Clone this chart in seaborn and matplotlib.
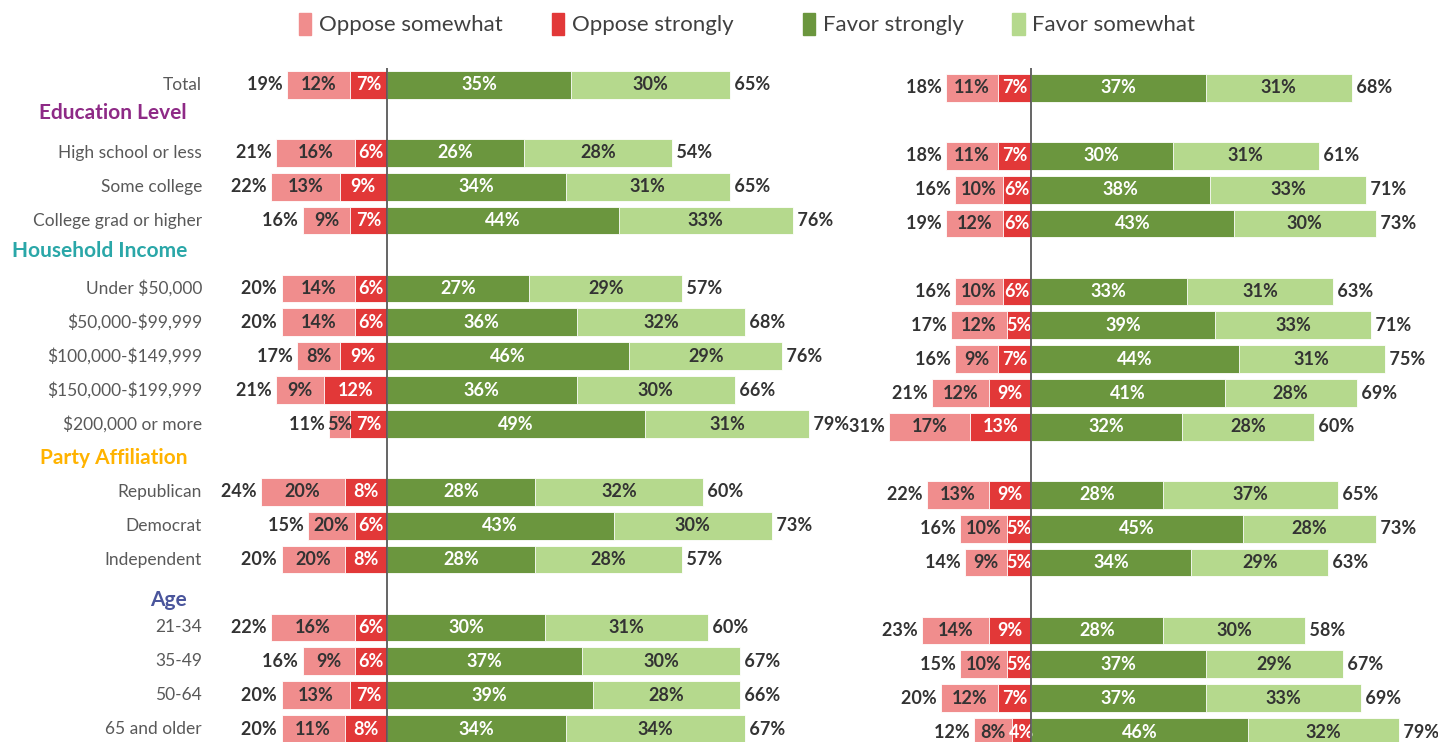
import pandas as pd
import seaborn as sns
import matplotlib.pyplot as plt
from matplotlib.patches import Patch
from matplotlib.transforms import blended_transform_factory

# --- data ---
rows = ['Total', 'High school or less', 'Some college', 'College grad or higher',
        'Under $50,000', '$50,000-$99,999', '$100,000-$149,999', '$150,000-$199,999',
        '$200,000 or more', 'Republican', 'Democrat', 'Independent',
        '21-34', '35-49', '50-64', '65 and older']
headers = ['Education Level', 'Household Income', 'Party Affiliation', 'Age']
header_colors = ['#8E2A86', '#2AA7A8', '#FFB300', '#4A559C']
slots = ['Total', 'Education Level', 'High school or less', 'Some college',
         'College grad or higher', 'Household Income', 'Under $50,000',
         '$50,000-$99,999', '$100,000-$149,999', '$150,000-$199,999',
         '$200,000 or more', 'Party Affiliation', 'Republican', 'Democrat',
         'Independent', 'Age', '21-34', '35-49', '50-64', '65 and older']

# left panel
oppose_total_l = [19, 21, 22, 16, 20, 20, 17, 21, 11, 24, 15, 20, 22, 16, 20, 20]
oppose_somewhat_l = [12, 16, 13, 9, 14, 14, 8, 9, 5, 20, 20, 20, 16, 9, 13, 11]
oppose_strongly_l = [7, 6, 9, 7, 6, 6, 9, 12, 7, 8, 6, 8, 6, 6, 7, 8]
favor_strongly_l = [35, 26, 34, 44, 27, 36, 46, 36, 49, 28, 43, 28, 30, 37, 39, 34]
favor_somewhat_l = [30, 28, 31, 33, 29, 32, 29, 30, 31, 32, 30, 28, 31, 30, 28, 34]
favor_total_l = [65, 54, 65, 76, 57, 68, 76, 66, 79, 60, 73, 57, 60, 67, 66, 67]

# right panel
oppose_total_r = [18, 18, 16, 19, 16, 17, 16, 21, 31, 22, 16, 14, 23, 15, 20, 12]
oppose_somewhat_r = [11, 11, 10, 12, 10, 12, 9, 12, 17, 13, 10, 9, 14, 10, 12, 8]
oppose_strongly_r = [7, 7, 6, 6, 6, 5, 7, 9, 13, 9, 5, 5, 9, 5, 7, 4]
favor_strongly_r = [37, 30, 38, 43, 33, 39, 44, 41, 32, 28, 45, 34, 28, 37, 37, 46]
favor_somewhat_r = [31, 31, 33, 30, 31, 33, 31, 28, 28, 37, 28, 29, 30, 29, 33, 32]
favor_total_r = [68, 61, 71, 73, 63, 71, 75, 69, 60, 65, 73, 63, 58, 67, 69, 79]

C_OPP_SOME = '#F08D8D'
C_OPP_STRONG = '#E23838'
C_FAV_STRONG = '#6B963E'
C_FAV_SOME = '#B5D98D'
DARK = '#333333'

sns.set_style('white')
plt.rcParams['font.family'] = ['Lato', 'DejaVu Sans']
plt.rcParams['text.parse_math'] = False

W, H = 1438, 742
fig = plt.figure(figsize=(W / 100, H / 100), dpi=100)


def make_axes(center_px, px_per, xmin, xmax, top_px, bottom_px):
    left = center_px + xmin * px_per
    width = (xmax - xmin) * px_per
    return fig.add_axes([left / W, 1 - bottom_px / H, width / W, (bottom_px - top_px) / H])


def draw_panel(ax, opp_outer, opp_total, opp_some, opp_strong, fav_strong, fav_some,
               fav_total, xlim, ylim):
    df = pd.DataFrame({
        'row': rows,
        'opp_outer': [-v for v in opp_outer],
        'opp_strong': [-v for v in opp_strong],
        'fav_stack': [a + b for a, b in zip(fav_strong, fav_some)],
        'fav_strong': fav_strong,
    })
    common = dict(data=df, y='row', order=slots, orient='y', errorbar=None,
                  saturation=1, width=0.82, ax=ax, edgecolor='white', linewidth=0.6)
    sns.barplot(x='fav_stack', color=C_FAV_SOME, **common)
    sns.barplot(x='fav_strong', color=C_FAV_STRONG, **common)
    sns.barplot(x='opp_outer', color=C_OPP_SOME, **common)
    sns.barplot(x='opp_strong', color=C_OPP_STRONG, **common)

    for i, r in enumerate(rows):
        y = slots.index(r)
        ob, st = opp_outer[i], opp_strong[i]
        fs, fo = fav_strong[i], fav_some[i]
        kw = dict(ha='center', va='center', fontsize=13, fontweight='bold')
        ax.text(-st / 2, y, f'{st}%', color='white', **kw)
        ax.text(-(ob + st) / 2, y, f'{opp_some[i]}%', color=DARK, **kw)
        ax.text(fs / 2, y, f'{fs}%', color='white', **kw)
        ax.text(fs + fo / 2, y, f'{fo}%', color=DARK, **kw)
        ax.text(-ob, y, f'{opp_total[i]}% ', ha='right', va='center', fontsize=13,
                fontweight='bold', color=DARK, clip_on=False)
        ax.text(fs + fo, y, f' {fav_total[i]}%', ha='left', va='center', fontsize=13,
                fontweight='bold', color=DARK, clip_on=False)

    ax.axvline(0, color='#595959', lw=1.3, zorder=5)
    ax.set_xlim(*xlim)
    ax.set_ylim(*ylim)
    ax.set_xlabel('')
    ax.set_ylabel('')
    ax.set_xticks([])
    ax.set_yticks([])
    sns.despine(ax=ax, left=True, bottom=True)


row_px = 33.9
top_px = 68
xlim_l, xlim_r = (-30, 82), (-35, 84)
ax_l = make_axes(387, 5.27, *xlim_l, top_px, H)
ax_r = make_axes(1031, 4.72, *xlim_r, top_px, H)

ylim_l = ((H - 85) / row_px, (top_px - 85) / row_px)
ylim_r = ((H - 88) / row_px, (top_px - 88) / row_px)

# left chart sizes its oppose bars by the printed total, right one by the segments
draw_panel(ax_l, oppose_total_l, oppose_total_l, oppose_somewhat_l, oppose_strongly_l,
           favor_strongly_l, favor_somewhat_l, favor_total_l, xlim_l, ylim_l)
opp_stack_r = [a + b for a, b in zip(oppose_somewhat_r, oppose_strongly_r)]
draw_panel(ax_r, opp_stack_r, oppose_total_r, oppose_somewhat_r, oppose_strongly_r,
           favor_strongly_r, favor_somewhat_r, favor_total_r, xlim_r, ylim_r)

# row labels and group headers
tr = blended_transform_factory(fig.transFigure, ax_l.transData)
for r in rows:
    ax_l.text(202 / W, slots.index(r), r, transform=tr, ha='right', va='center',
              fontsize=12.5, color='#595959')
header_nudge = [-0.18, -0.1, 0.0, 0.18]
for h, c, dy in zip(headers, header_colors, header_nudge):
    ax_l.text(187 / W, slots.index(h) + dy, h, transform=tr, ha='right', va='center',
              fontsize=15, fontweight='bold', color=c)

# legend (two groups)
leg_kw = dict(loc='center', ncol=2, frameon=False, fontsize=16, handlelength=0.55,
              handleheight=1.2, handletextpad=0.35, columnspacing=2.2,
              labelcolor='#404040')
fig.legend(handles=[Patch(color=C_OPP_SOME, label='Oppose somewhat'),
                    Patch(color=C_OPP_STRONG, label='Oppose strongly')],
           bbox_to_anchor=(516 / W, 1 - 24 / H), **leg_kw)
fig.legend(handles=[Patch(color=C_FAV_STRONG, label='Favor strongly'),
                    Patch(color=C_FAV_SOME, label='Favor somewhat')],
           bbox_to_anchor=(999 / W, 1 - 24 / H), **leg_kw)

fig.savefig('out.png', dpi=100)
